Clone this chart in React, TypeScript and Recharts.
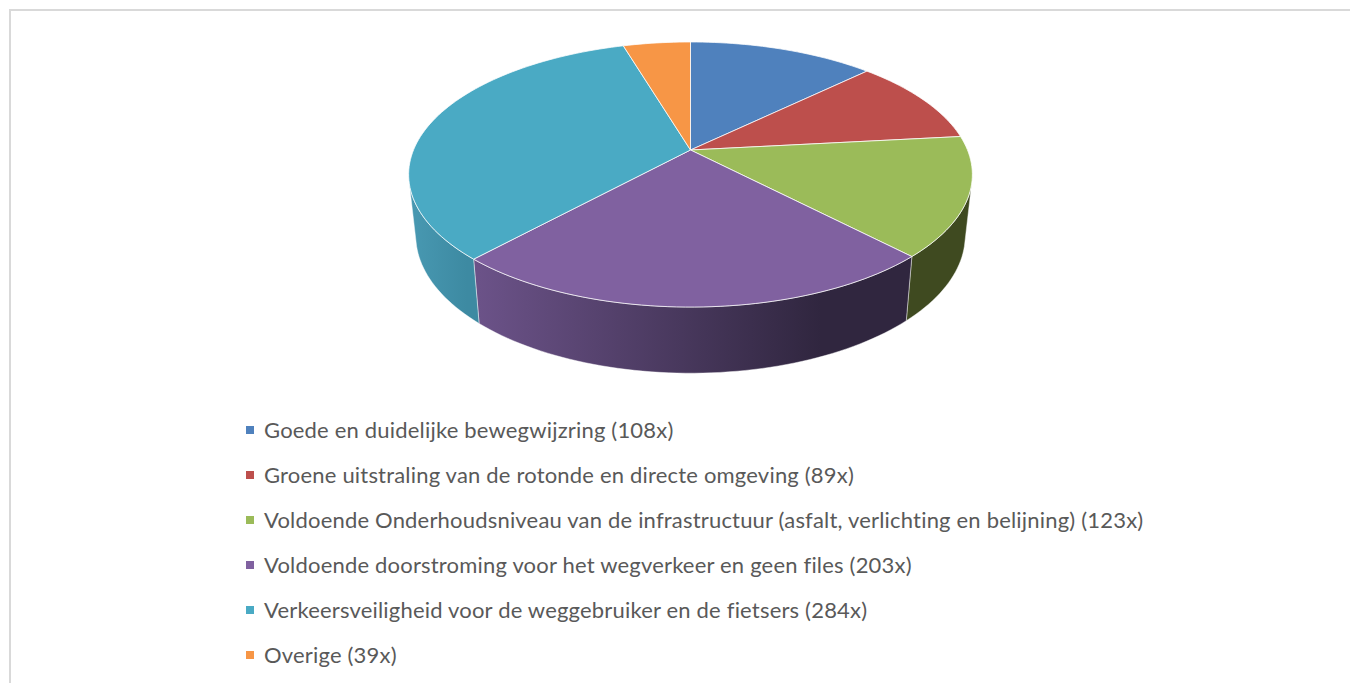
import React from "react";
import { PieChart, Pie, Legend } from "recharts";

const categories = [
  "Goede en duidelijke bewegwijzring (108x)",
  "Groene uitstraling van de rotonde en directe omgeving (89x)",
  "Voldoende Onderhoudsniveau van de infrastructuur (asfalt, verlichting en belijning) (123x)",
  "Voldoende doorstroming voor het wegverkeer en geen files (203x)",
  "Verkeersveiligheid voor de weggebruiker en de fietsers (284x)",
  "Overige (39x)",
];
const values = [108, 89, 123, 203, 284, 39];
const colors = ["#4f81bd", "#bd4f4c", "#9bbb59", "#8061a0", "#4aaac4", "#f79646"];
const wallFrom = ["#3d6591", "#8f3c39", "#3f4a20", "#6b5288", "#4797b0", "#b86f33"];
const wallTo = ["#3d6591", "#8f3c39", "#3f4a20", "#30263f", "#3d8aa2", "#b86f33"];

const data = categories.map((name, i) => ({ name, value: values[i], fill: colors[i], index: i }));

const K = 0.185;
const R = 277;
const RY = 128 / R;
const WALL_START = 105;
const WALL_END = 255;

function project(cx: number, cy: number, r: number, deg: number, scaleX = 1, scaleY = RY, yOff = 0) {
  const t = (deg * Math.PI) / 180;
  const u = Math.sin(t);
  const v = Math.cos(t);
  const d = 1 + K * v;
  return [cx + (r * scaleX * u) / d, cy + yOff - (r * scaleY * v) / d];
}

function arcPts(a: number, b: number, f: (d: number) => number[]) {
  const n = Math.max(2, Math.ceil(Math.abs(b - a) / 1.5));
  const pts: number[][] = [];
  for (let i = 0; i <= n; i++) pts.push(f(a + ((b - a) * i) / n));
  return pts;
}
const toPath = (pts: number[][]) => pts.map((p) => `${p[0].toFixed(2)},${p[1].toFixed(2)}`).join(" L");

function Slice3D(props: any) {
  const { cx, cy, outerRadius, startAngle, endAngle, fill, index } = props;
  const a = 90 - startAngle;
  const b = 90 - endAngle;
  const top = (d: number) => project(cx, cy, outerRadius, d);
  const bot = (d: number) => project(cx, cy, outerRadius, d, 270 / R, 133 / R, 60);
  const rim = arcPts(a, b, top);
  const face = `M${cx},${cy} L${toPath(rim)} Z`;
  const wa = Math.max(a, WALL_START);
  const wb = Math.min(b, WALL_END);
  const hasWall = wb > wa;
  const gid = `wall-${index}`;
  let wall = "";
  if (hasWall) {
    const t = arcPts(wa, wb, top);
    const bt = arcPts(wb, wa, bot);
    wall = `M${toPath(t)} L${toPath(bt)} Z`;
  }
  const x0 = hasWall ? Math.min(bot(wa)[0], bot(wb)[0]) : 0;
  const x1 = hasWall ? Math.max(bot(wa)[0], bot(wb)[0]) : 1;
  return (
    <g>
      {hasWall && (
        <>
          <defs>
            <linearGradient id={gid} gradientUnits="userSpaceOnUse" x1={x0} x2={x1} y1={0} y2={0}>
              <stop offset="0%" stopColor={wallFrom[index]} />
              <stop offset="80%" stopColor={wallTo[index]} />
            </linearGradient>
          </defs>
          <path d={wall} fill={`url(#${gid})`} stroke="#ffffff" strokeOpacity={0.55} strokeWidth={0.8} />
        </>
      )}
      <path d={face} fill={fill} stroke="#ffffff" strokeOpacity={0.75} strokeWidth={1} strokeLinejoin="round" />
    </g>
  );
}

function LegendBox(props: any) {
  const items = props.payload || [];
  return (
    <div style={{ fontFamily: "Lato", fontSize: 22, letterSpacing: 0.19, fontVariantLigatures: "none", color: "#595959" }}>
      {items.map((it: any) => (
        <div key={it.value} style={{ height: 45, lineHeight: "43px", whiteSpace: "nowrap", position: "relative", paddingLeft: 18 }}>
          <span style={{ position: "absolute", left: 0, top: 18, width: 8, height: 8, background: it.color }} />
          {it.value}
        </div>
      ))}
    </div>
  );
}

export default function App() {
  return (
    <div style={{ position: "absolute", left: 0, top: 0, width: 1350, height: 683, overflow: "hidden", background: "#fff" }}>
      <div style={{ position: "absolute", left: 9, top: 9, width: 1341, height: 674, borderLeft: "2px solid #d9d9d9", borderTop: "2px solid #d9d9d9", boxSizing: "border-box" }} />
      <PieChart width={1350} height={683} margin={{ top: 0, right: 0, bottom: 0, left: 0 }} style={{ position: "absolute", left: 0, top: 0 }}>
        <Pie
          data={data}
          dataKey="value"
          nameKey="name"
          cx={690.5}
          cy={150}
          outerRadius={R}
          startAngle={90}
          endAngle={-270}
          isAnimationActive={false}
          shape={Slice3D}
        />
        <Legend
          content={LegendBox}
          itemSorter={null}
          wrapperStyle={{ position: "absolute", left: 246, top: 408, bottom: "auto", width: 1000 }}
        />
      </PieChart>
    </div>
  );
}
